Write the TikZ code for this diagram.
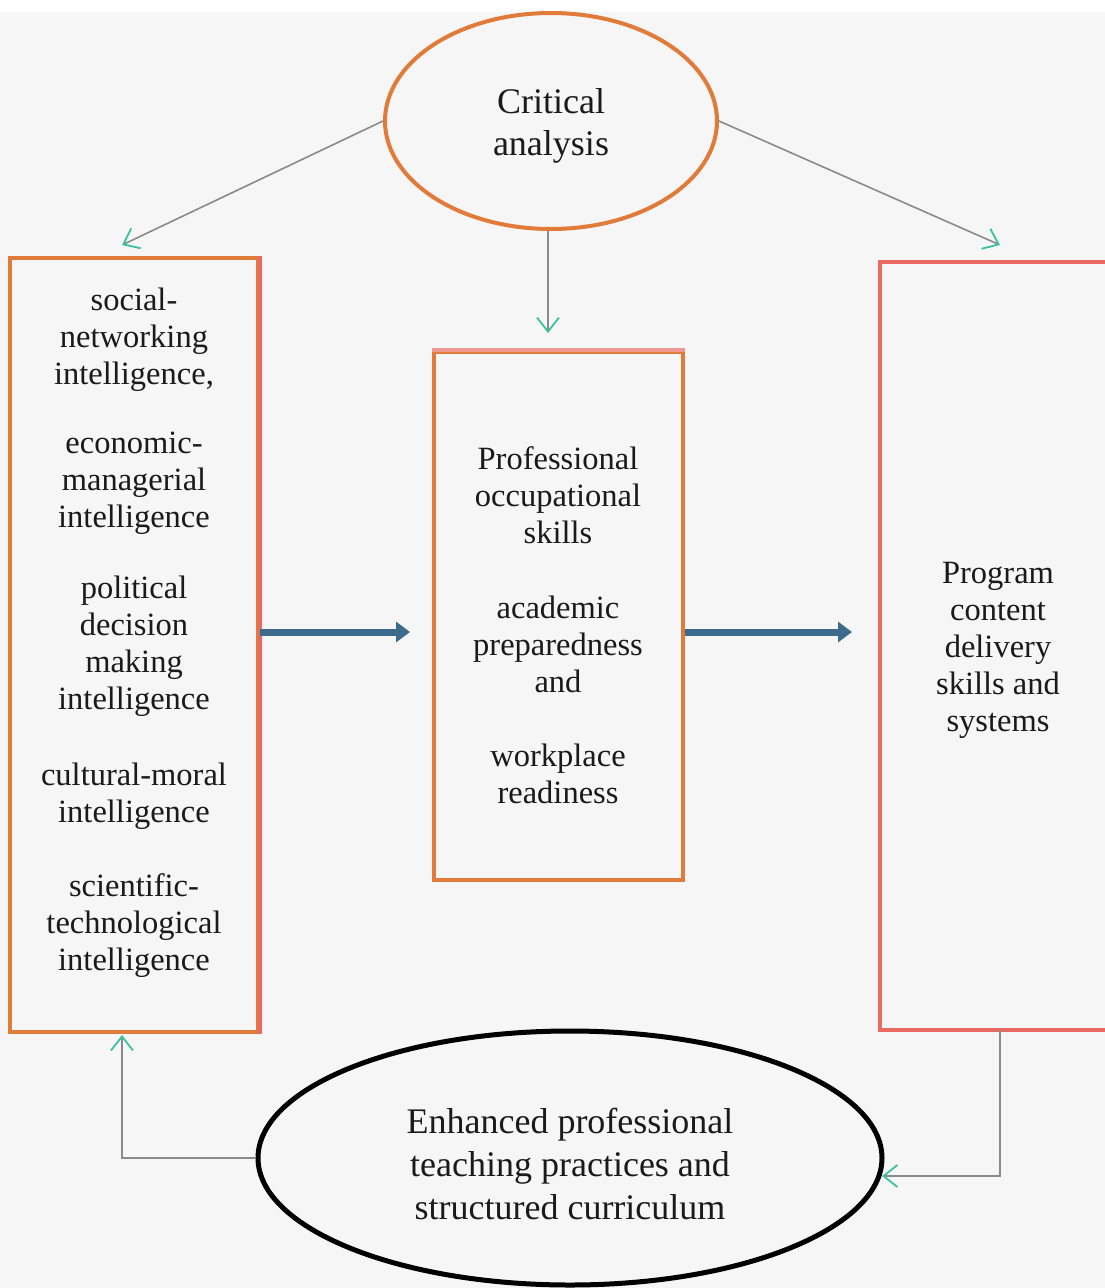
\documentclass[tikz,border=0pt]{standalone}
\usepackage{fontspec}
\setmainfont{Liberation Serif}
\usetikzlibrary{shapes.geometric,arrows.meta}
\definecolor{bgc}{HTML}{F6F6F6}
\definecolor{boxor}{HTML}{E07B39}
\definecolor{boxred}{HTML}{E86A62}
\definecolor{lineg}{HTML}{8A8A8A}
\definecolor{tealc}{HTML}{3CC0A0}
\definecolor{bluea}{HTML}{3D6B8C}
\definecolor{txt}{HTML}{1A1A1A}
\begin{document}
\begin{tikzpicture}[x=1pt,y={(0pt,-1pt)},
  lbl/.style={align=center,text=txt,font=\fontsize{32.5}{37}\selectfont,inner sep=0pt},
  big/.style={lbl,font=\fontsize{36}{43}\selectfont},
  panel/.style={draw=boxor,line width=4pt,fill=bgc,inner sep=0pt},
  thin/.style={draw=lineg,line width=1.6pt,-{Straight Barb[color=tealc,length=14pt,width=22pt,line width=1.8pt]}},
  thick/.style={draw=bluea,line width=7pt,-{Triangle[length=14pt,width=20pt]}}]
\useasboundingbox (0,0) rectangle (1105,1288);
\fill[white] (0,0) rectangle (1105,1288);
\fill[bgc] (0,12) rectangle (1105,1288);
% boxes
\node[panel,minimum width=248pt,minimum height=774pt] (lbox) at (134,645) {};
\draw[boxred,line width=4pt] (lbox.north east) -- (lbox.south east);
\node[panel,minimum width=249pt,minimum height=528pt] (mbox) at (558.5,616) {};
\draw[boxred!70!white,line width=4pt] (mbox.north west) -- (mbox.north east);
\node[panel,draw=boxred,minimum width=240pt,minimum height=768pt] (rbox) at (1000,646) {};
% ellipses
\node[ellipse,draw=boxor,line width=4pt,fill=bgc,minimum width=332pt,minimum height=216pt,inner sep=0pt] (top) at (551,121) {};
\node[big,font=\fontsize{36}{42}\selectfont] (toptxt) at (551,126) {Critical\\analysis};
\node[ellipse,draw=black,line width=5pt,fill=bgc,minimum width=624pt,minimum height=254pt,inner sep=0pt] (bot) at (570,1158) {};
\node[big] (bottxt) at (570,1164) {Enhanced professional\\teaching practices and\\structured curriculum};
% left box text
\node[lbl] (l1) at (134,340) {social-\\networking\\intelligence,};
\node[lbl] (l2) at (134,483) {economic-\\managerial\\intelligence};
\node[lbl] (l3) at (134,646) {political\\decision\\making\\intelligence};
\node[lbl] (l4) at (134,796) {cultural-moral\\intelligence};
\node[lbl] (l5) at (134,926) {scientific-\\technological\\intelligence};
% middle box text
\node[lbl] (m1) at (558,495) {Professional\\occupational\\skills};
\node[lbl] (m2) at (558,644) {academic\\preparedness\\and};
\node[lbl] (m3) at (558,774) {workplace\\readiness};
% right box text
\node[lbl] (r1) at (998,650) {Program\\content\\delivery\\skills and\\systems};
% connectors
\coordinate (la) at (122,245);
\coordinate (ra) at (1000,245);
\coordinate (ma) at (548,333);
\draw[thin] (top.west) -- (la);
\draw[thin] (top.east) -- (ra);
\draw[thin] (top.south -| ma) -- (ma);
\coordinate (t1) at (410,632);
\coordinate (t2) at (852,632);
\draw[thick] (lbox.east |- t1) -- (t1);
\draw[thick] (mbox.east |- t2) -- (t2);
\coordinate (bl) at (122,1035);
\draw[thin] (bot.west) -| (bl);
\coordinate (rs) at (1000,1030);
\coordinate (be) at (882,1176);
\draw[thin] (rs) |- (be);
\end{tikzpicture}
\end{document}
